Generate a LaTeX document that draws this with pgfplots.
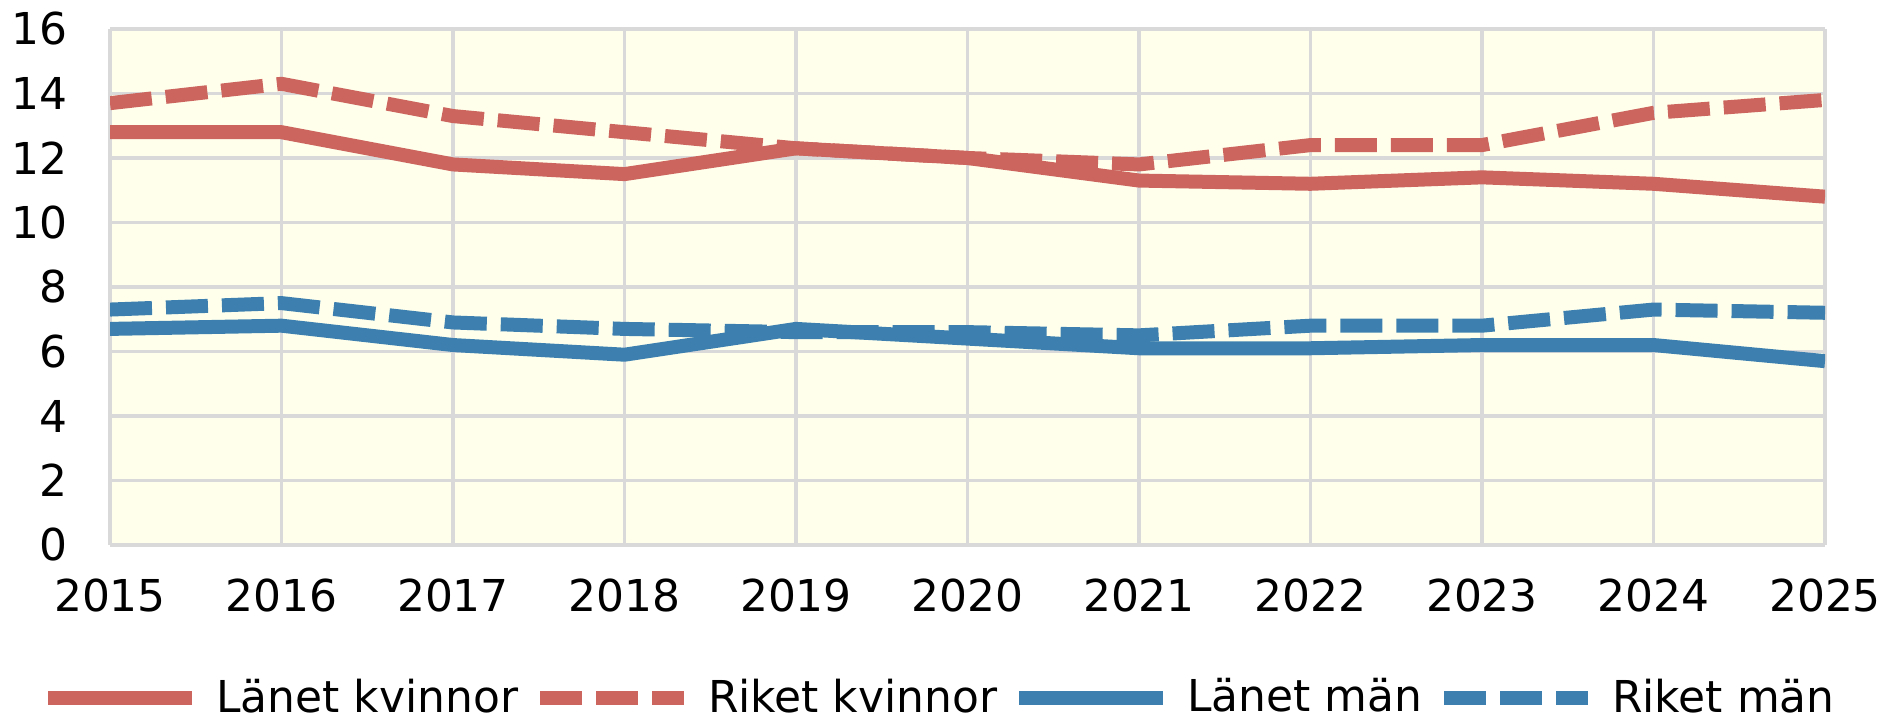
\documentclass[border=0pt]{standalone}
\usepackage{pgfplots}
\pgfplotsset{compat=1.18}
\usepackage{fontspec}
\setmainfont{DejaVu Sans}
\definecolor{cred}{RGB}{204,101,94}
\definecolor{cblue}{RGB}{61,128,176}
\definecolor{cgrid}{RGB}{217,217,217}
\definecolor{cbg}{RGB}{255,255,235}
\begin{document}
\begin{tikzpicture}
\path[use as bounding box] (0,0) rectangle (19.03cm,7.2cm);
\begin{axis}[
  at={(1.10cm,1.75cm)}, anchor=south west,
  scale only axis, width=17.15cm, height=5.16cm,
  xmin=2015, xmax=2025, ymin=0, ymax=16,
  xtick={2015,2016,...,2025}, ytick={0,2,...,16},
  /pgf/number format/.cd, 1000 sep={}, assume math mode=true, /pgfplots/.cd,
  major tick length=0pt,
  axis line style={draw=none},
  grid=major,
  grid style={draw=cgrid, line width=0.033cm},
  axis background/.style={fill=cbg},
  tick label style={font=\fontsize{12.5}{15}\selectfont, inner sep=0pt},
  xticklabel style={anchor=center, yshift=-0.505cm},
  yticklabel style={anchor=east, xshift=-0.42cm},
  every axis plot/.append style={line width=0.14cm, line cap=butt, line join=round},
  legend columns=4,
  legend style={at={(0.4828,-0.2965)}, anchor=center, draw=none, fill=none,
    font=\fontsize{12.5}{15}\selectfont, column sep=0pt,
    nodes={inner sep=0pt},
    /tikz/every odd column/.append style={column sep=0.17cm},
    /tikz/every even column/.append style={column sep=0.15cm}},
  legend image code/.code={\draw[#1, line cap=butt] (0cm,0cm) -- (1.44cm,0cm);},
]
\addplot[cred, solid] coordinates {(2015,12.8) (2016,12.8) (2017,11.8) (2018,11.5) (2019,12.3) (2020,12.0) (2021,11.3) (2022,11.2) (2023,11.4) (2024,11.2) (2025,10.8)};
\addlegendentry{Länet kvinnor}
\addplot[cred, dash pattern=on 0.42cm off 0.14cm] coordinates {(2015,13.7) (2016,14.3) (2017,13.3) (2018,12.8) (2019,12.3) (2020,12.0) (2021,11.8) (2022,12.4) (2023,12.4) (2024,13.4) (2025,13.8)};
\addlegendentry{Riket kvinnor}
\addplot[cblue, solid] coordinates {(2015,6.7) (2016,6.8) (2017,6.2) (2018,5.9) (2019,6.7) (2020,6.4) (2021,6.1) (2022,6.1) (2023,6.2) (2024,6.2) (2025,5.7)};
\addlegendentry{Länet män}
\addplot[cblue, dash pattern=on 0.42cm off 0.14cm] coordinates {(2015,7.3) (2016,7.5) (2017,6.9) (2018,6.7) (2019,6.6) (2020,6.6) (2021,6.5) (2022,6.8) (2023,6.8) (2024,7.3) (2025,7.2)};
\addlegendentry{Riket män}
\end{axis}
\end{tikzpicture}
\end{document}
